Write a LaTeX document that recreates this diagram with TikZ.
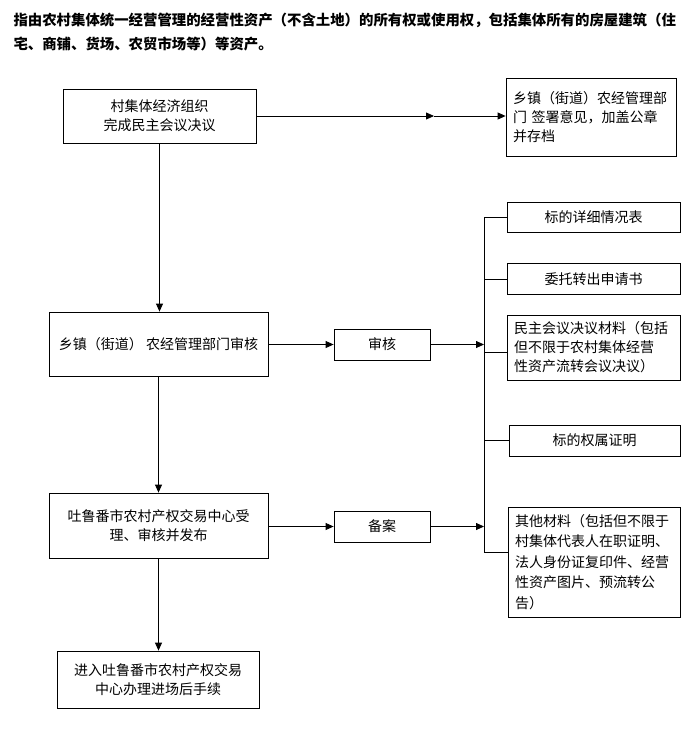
\documentclass[tikz,border=0pt]{standalone}
\usepackage{fontspec}
\newfontfamily\cjk{Noto Sans CJK SC}
\usetikzlibrary{arrows.meta,calc}

\tikzset{
	box/.style={draw, line width=0.8pt, inner sep=0pt, align=center,
		font=\cjk\fontsize{14}{19}\selectfont},
	lbox/.style={box, align=left, inner xsep=7pt},
	arr/.style={line width=0.8pt, -{Triangle[length=8pt,width=7pt]}},
	ln/.style={line width=0.8pt}
}

\begin{document}
\begin{tikzpicture}[x=1pt, y=-1pt]
		%%%%% START %%%%%
		\useasboundingbox (0,0) rectangle (693,747);
		
		\node[anchor=west, align=left, font=\cjk\bfseries\fontsize{14.4}{24}\selectfont] (title) at (10,32)
			{指由农村集体统一经营管理的经营性资产（不含土地）的所有权或使用权，包括集体所有的房屋建筑（住\\宅、商铺、货场、农贸市场等）等资产。};
		
		% left column
		\node[box, minimum width=193pt, minimum height=54pt] (org) at (159.5,116) {村集体经济组织\\完成民主会议决议};
		\node[lbox, text width=156pt, minimum height=78pt] (town) at (591,117) {乡镇（街道）农经管理部\\门 签署意见，加盖公章\\并存档};
		\node[box, minimum width=219pt, minimum height=64pt] (check) at (158.5,344) {乡镇（街道） 农经管理部门审核};
		\node[box, minimum width=219pt, minimum height=65pt] (center) at (158.5,525.5) {吐鲁番市农村产权交易中心受\\理、审核并发布};
		\node[box, minimum width=202pt, minimum height=57pt] (enter) at (158,679.5) {进入吐鲁番市农村产权交易\\中心办理进场后手续};
		
		% middle
		\node[box, minimum width=96pt, minimum height=31pt] (audit) at (382,344.5) {审核};
		\node[box, minimum width=96pt, minimum height=31pt] (record) at (382,526.5) {备案};
		
		% materials
		\node[box, minimum width=173pt, minimum height=30pt] (m1) at (593.5,217) {标的详细情况表};
		\node[box, minimum width=173pt, minimum height=31pt] (m2) at (593.5,279) {委托转出申请书};
		\node[lbox, text width=159pt, minimum height=65pt] (m3) at (593.5,347.5) {民主会议决议材料（包括\\但不限于农村集体经营\\性资产流转会议决议）};
		\node[box, minimum width=171pt, minimum height=31pt] (m4) at (594.5,440.5) {标的权属证明};
		\node[lbox, text width=158pt, minimum height=110pt, font=\cjk\fontsize{14}{20.5}\selectfont] (m5) at (594,562)
			{其他材料（包括但不限于\\村集体代表人在职证明、\\法人身份证复印件、经营\\性资产图片、预流转公\\告）};
		
		\coordinate (relay) at (434,116);
		\coordinate (busT) at (484,217);
		\coordinate (busB) at (484,552);
		
		% connectors
		\draw[arr] (org.east) -- (relay);
		\draw[arr] (relay) -- (relay -| town.west);
		\draw[arr] (org) -- (org |- check.north);
		\draw[arr] (check) -- (check |- center.north);
		\draw[arr] (center) -- (center |- enter.north);
		\draw[arr] (check.east |- audit) -- (audit);
		\draw[arr] (center.east |- record) -- (record);
		\draw[arr] (audit) -- (audit -| busT);
		\draw[arr] (record) -- (record -| busT);
		
		\draw[ln] (busT) -- (busB);
		\draw[ln] (busT) -- (m1);
		\draw[ln] (m2.west -| busT) -- (m2);
		\draw[ln] ($(m3.west -| busT)+(0,5)$) -- ($(m3.west)+(0,5)$);
		\draw[ln] (m4.west -| busT) -- (m4);
		\draw[ln] (busB) -- (busB -| m5.west);
		
		%%%%% END %%%%%
\end{tikzpicture}
\end{document}
